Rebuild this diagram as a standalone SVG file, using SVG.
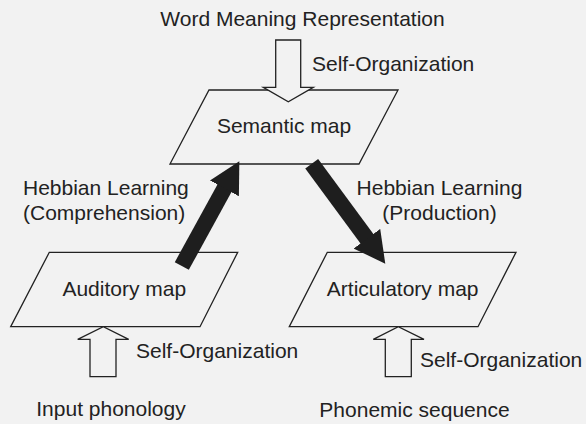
<svg xmlns="http://www.w3.org/2000/svg" width="586" height="424" viewBox="0 0 586 424">
<defs>
<style>
text{font-family:"Liberation Sans",Arial,sans-serif;font-size:21px;fill:#222}
.map{fill:none;stroke:#222;stroke-width:1.3;stroke-linejoin:miter}
.hollow{fill:#f2f2f2;stroke:#222;stroke-width:1.3;stroke-linejoin:miter}
.heb{stroke:#1e1e1e;stroke-width:16;fill:none;stroke-linecap:butt}
</style>
<marker id="head" markerUnits="userSpaceOnUse" markerWidth="32" markerHeight="34" refX="1" refY="16.5" orient="auto" viewBox="0 0 32 33">
<path d="M0,0 L31,16.5 L0,33 Z" fill="#1e1e1e"/>
</marker>
</defs>
<rect width="586" height="424" fill="#f2f2f2"/>
<g id="word-meaning">
<text x="302.5" y="26" text-anchor="middle">Word Meaning Representation</text>
</g>
<g id="semantic-map">
<polygon class="map" points="209,90 398,90 359,164 170,164"/>
<text x="284" y="133" text-anchor="middle">Semantic map</text>
</g>
<g id="auditory-map">
<polygon class="map" points="49.3,252.3 237.7,252.3 200,326.7 10.7,326.7"/>
<text x="124.3" y="296" text-anchor="middle">Auditory map</text>
</g>
<g id="articulatory-map">
<polygon class="map" points="327.3,252.3 516,252.3 478,326.7 289.3,326.7"/>
<text x="402.7" y="296" text-anchor="middle">Articulatory map</text>
</g>
<g id="input-phonology">
<text x="111" y="416" text-anchor="middle">Input phonology</text>
</g>
<g id="phonemic-sequence">
<text x="414.5" y="416.5" text-anchor="middle">Phonemic sequence</text>
</g>
<g id="connectors">
<polygon class="hollow" points="275.7,40 300.7,40 300.7,87.3 313.3,87.3 288.3,101.7 263.3,87.3 275.7,87.3"/>
<text x="312" y="71">Self-Organization</text>
<polygon class="hollow" points="90,376.7 116,376.7 116,339.3 128.7,339.3 103.3,326.7 77.7,339.3 90,339.3"/>
<text x="136" y="358.3">Self-Organization</text>
<polygon class="hollow" points="385.3,376.7 411.3,376.7 411.3,339.3 424,339.3 398.3,326.7 373.3,339.3 385.3,339.3"/>
<text x="420" y="366.7">Self-Organization</text>
<line class="heb" x1="181.8" y1="266" x2="224.9" y2="187.5" marker-end="url(#head)"/>
<text x="23" y="195">Hebbian Learning</text>
<text x="23" y="220">(Comprehension)</text>
<line class="heb" x1="311.7" y1="163.7" x2="367.5" y2="239.5" marker-end="url(#head)"/>
<text x="439.5" y="195" text-anchor="middle">Hebbian Learning</text>
<text x="439.5" y="220" text-anchor="middle">(Production)</text>
</g>
</svg>
